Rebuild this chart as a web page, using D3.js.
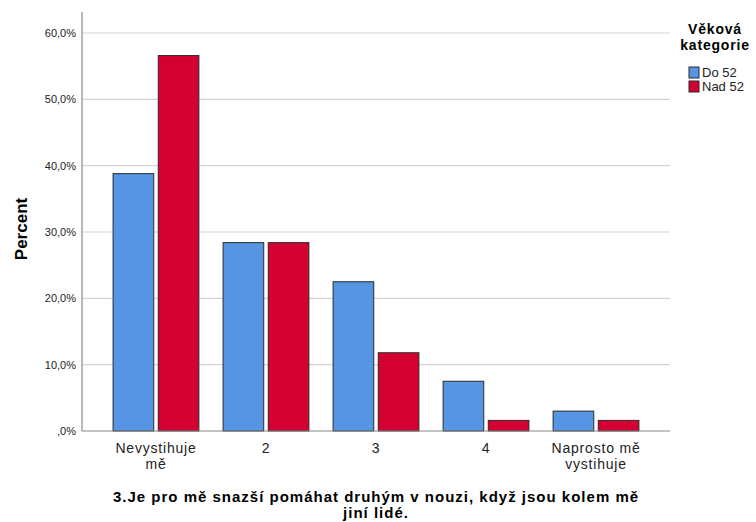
<!DOCTYPE html>
<html>
<head>
<meta charset="utf-8">
<script src="https://cdn.jsdelivr.net/npm/d3@7"></script>
<style>
  body { margin: 0; background: #fff; }
  text { font-family: Arial, "Liberation Sans", sans-serif; }
</style>
</head>
<body>
<svg id="chart" width="756" height="522"></svg>
<script>
// Datos ---------------------------------------------------------------
const categories = ["Nevystihuje mě", "2", "3", "4", "Naprosto mě vystihuje"];
const categoryLines = [["Nevystihuje", "mě"], ["2"], ["3"], ["4"], ["Naprosto mě", "vystihuje"]];
const seriesNames = ["Do 52", "Nad 52"];
const seriesDo52 = [38.8, 28.4, 22.5, 7.5, 3.0];
const seriesNad52 = [56.6, 28.4, 11.8, 1.6, 1.6];
const yTicks = [0, 10, 20, 30, 40, 50, 60];
const colors = ["#5595e4", "#d50032"];

// Configuración -------------------------------------------------------
const plot = { left: 82, right: 670, top: 12, bottom: 431 };
const svg = d3.select("#chart");

const x0 = d3.scaleBand()
    .domain(categories)
    .range([plot.left, plot.right])
    .paddingInner(0.22)
    .paddingOuter(0.2825);

const x1 = d3.scaleBand()
    .domain(seriesNames)
    .range([0, x0.bandwidth()])
    .paddingInner(0.1);

const y = d3.scaleLinear()
    .domain([0, 60])
    .range([plot.bottom, 33]);

// Grilla ---------------------------------------------------------------
svg.append("g")
    .selectAll("line")
    .data(yTicks.filter(d => d > 0))
    .join("line")
    .attr("x1", plot.left)
    .attr("x2", plot.right)
    .attr("y1", d => y(d))
    .attr("y2", d => y(d))
    .attr("stroke", "#d4d4d4")
    .attr("stroke-width", 1.2);

// Eje Y (formato checo: ",0%" para el cero)
const pctFormat = d => (d === 0 ? ",0" : d3.format(".1f")(d).replace(".", ",")) + "%";

svg.append("g")
    .attr("transform", `translate(${plot.left},0)`)
    .call(d3.axisLeft(y).tickValues(yTicks).tickSize(0).tickPadding(6).tickFormat(pctFormat))
    .call(g => g.select(".domain").remove())
    .call(g => g.selectAll("text")
        .attr("font-size", 11)
        .attr("fill", "#222"));

// Barras --------------------------------------------------------------
const rows = categories.map((c, i) => ({ cat: c, vals: [seriesDo52[i], seriesNad52[i]] }));

svg.append("g")
    .selectAll("g")
    .data(rows)
    .join("g")
    .attr("transform", d => `translate(${x0(d.cat)},0)`)
    .selectAll("rect")
    .data(d => d.vals.map((v, j) => ({ name: seriesNames[j], v, j })))
    .join("rect")
    .attr("x", d => x1(d.name))
    .attr("y", d => y(d.v))
    .attr("width", x1.bandwidth())
    .attr("height", d => y(0) - y(d.v))
    .attr("fill", d => colors[d.j])
    .attr("stroke", "#2b2b2b")
    .attr("stroke-width", 1);

// Ejes (líneas)
svg.append("line")
    .attr("x1", plot.left).attr("x2", plot.left)
    .attr("y1", plot.top).attr("y2", plot.bottom)
    .attr("stroke", "#888").attr("stroke-width", 1.2);
svg.append("line")
    .attr("x1", plot.left).attr("x2", plot.right)
    .attr("y1", plot.bottom).attr("y2", plot.bottom)
    .attr("stroke", "#888").attr("stroke-width", 1.2);

// Etiquetas X
svg.append("g")
    .selectAll("text")
    .data(categories)
    .join("text")
    .attr("y", 453)
    .attr("text-anchor", "middle")
    .attr("font-size", 14)
    .attr("letter-spacing", 0.8)
    .attr("fill", "#222")
    .each(function (d, i) {
        d3.select(this).selectAll("tspan")
            .data(categoryLines[i])
            .join("tspan")
            .attr("x", x0(d) + x0.bandwidth() / 2)
            .attr("dy", (t, k) => (k === 0 ? 0 : 16))
            .text(t => t);
    });

// Títulos de ejes
svg.append("text")
    .attr("transform", "translate(27,229) rotate(-90)")
    .attr("text-anchor", "middle")
    .attr("font-size", 17)
    .attr("font-weight", "bold")
    .text("Percent");

svg.append("text")
    .attr("y", 502)
    .attr("text-anchor", "middle")
    .attr("font-size", 15)
    .attr("font-weight", "bold")
    .attr("letter-spacing", 1)
    .selectAll("tspan")
    .data(["3.Je pro mě snazší pomáhat druhým v nouzi, když jsou kolem mě", "jiní lidé."])
    .join("tspan")
    .attr("x", 376)
    .attr("dy", (t, k) => (k === 0 ? 0 : 16))
    .text(t => t);

// Leyenda --------------------------------------------------------------
const legend = svg.append("g");
legend.append("text")
    .attr("y", 34)
    .attr("text-anchor", "middle")
    .attr("font-size", 14)
    .attr("font-weight", "bold")
    .attr("letter-spacing", 0.8)
    .selectAll("tspan")
    .data(["Věková", "kategorie"])
    .join("tspan")
    .attr("x", 715)
    .attr("dy", (t, k) => (k === 0 ? 0 : 16))
    .text(t => t);

const items = legend.selectAll("g.item")
    .data(seriesNames)
    .join("g")
    .attr("class", "item")
    .attr("transform", (d, i) => `translate(689,${67 + i * 14})`);
items.append("rect")
    .attr("width", 10).attr("height", 11)
    .attr("fill", (d, i) => colors[i])
    .attr("stroke", "#2b2b2b").attr("stroke-width", 1);
items.append("text")
    .attr("x", 13).attr("y", 10)
    .attr("font-size", 13)
    .attr("fill", "#222")
    .text(d => d);
</script>
</body>
</html>
